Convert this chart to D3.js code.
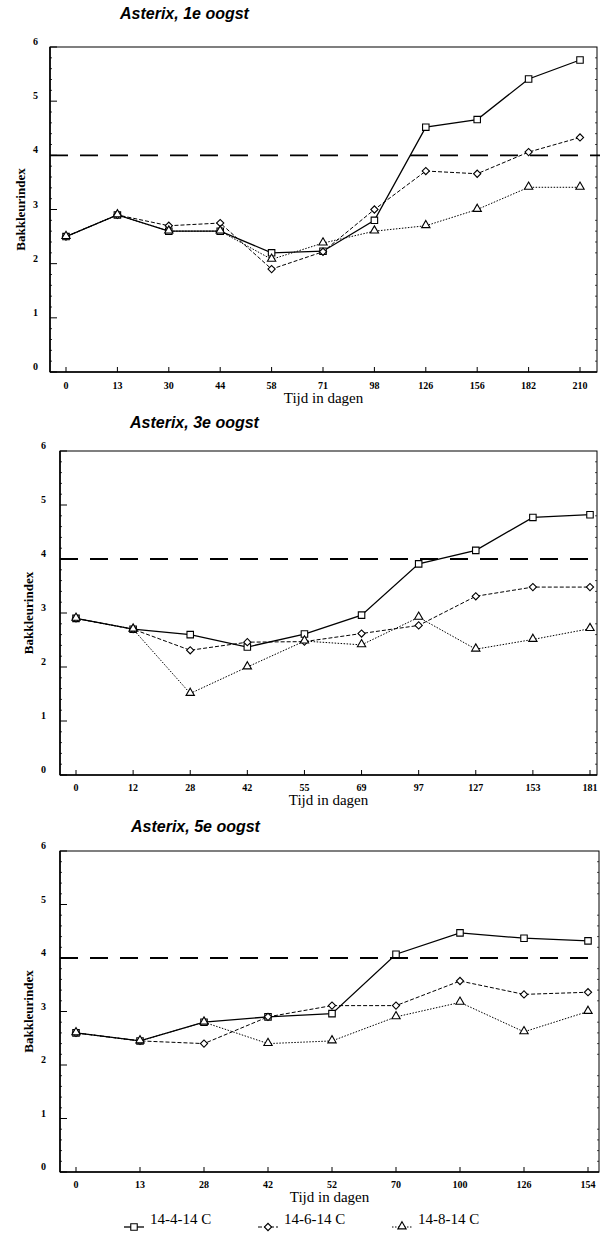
<!DOCTYPE html>
<html><head><meta charset="utf-8">
<script src="https://cdn.jsdelivr.net/npm/d3@7"></script>
<style>body{margin:0;background:#fff}svg{display:block}</style>
</head><body>
<svg id="c" width="600" height="1237"></svg>
<script>
// ---- data ----
const titles = ["Asterix, 1e oogst", "Asterix, 3e oogst", "Asterix, 5e oogst"];
const seriesNames = ["14-4-14 C", "14-6-14 C", "14-8-14 C"];
const yTicks = [0, 1, 2, 3, 4, 5, 6];
const threshold = 4;

const days1 = ["0","13","30","44","58","71","98","126","156","182","210"];
const sq1  = [2.5, 2.9, 2.6, 2.6, 2.2, 2.23, 2.8, 4.52, 4.66, 5.41, 5.76];
const di1  = [2.5, 2.9, 2.7, 2.75, 1.9, 2.22, 3.0, 3.71, 3.66, 4.06, 4.33];
const tr1  = [2.5, 2.9, 2.6, 2.6, 2.08, 2.38, 2.6, 2.7, 3.0, 3.41, 3.41];

const days2 = ["0","12","28","42","55","69","97","127","153","181"];
const sq2  = [2.9, 2.7, 2.6, 2.37, 2.61, 2.96, 3.91, 4.16, 4.77, 4.82];
const di2  = [2.9, 2.7, 2.31, 2.46, 2.47, 2.62, 2.77, 3.31, 3.48, 3.48];
const tr2  = [2.9, 2.7, 1.51, 2.0, 2.48, 2.41, 2.92, 2.33, 2.51, 2.71];

const days3 = ["0","13","28","42","52","70","100","126","154"];
const sq3  = [2.6, 2.45, 2.8, 2.9, 2.96, 4.07, 4.47, 4.37, 4.32];
const di3  = [2.6, 2.45, 2.4, 2.9, 3.11, 3.11, 3.57, 3.32, 3.36];
const tr3  = [2.6, 2.45, 2.8, 2.4, 2.45, 2.9, 3.17, 2.62, 3.0];

// ---- layout ----
const panels = [
  {days: days1, vals: [sq1, di1, tr1], left: 50, right: 597, top: 47, bottom: 372, x0: 66, x1: 580,
   titleX: 120, titleY: 19, ylabX: 20, ytickX: 42, xlabY: 389, xtitleY: 403},
  {days: days2, vals: [sq2, di2, tr2], left: 60, right: 597, top: 451, bottom: 775, x0: 76, x1: 590,
   titleX: 130, titleY: 428, ylabX: 28, ytickX: 50, xlabY: 791, xtitleY: 805},
  {days: days3, vals: [sq3, di3, tr3], left: 60, right: 599, top: 851, bottom: 1172, x0: 76, x1: 588,
   titleX: 131, titleY: 832, ylabX: 28, ytickX: 50, xlabY: 1188, xtitleY: 1202}
];

const svg = d3.select("#c");
const serif = "'Liberation Serif', 'Times New Roman', serif";
const sans = "'Liberation Sans', Arial, sans-serif";
const lineStyles = [
  {dash: null, w: 1.3},
  {dash: "4,2", w: 1},
  {dash: "1.5,1.5", w: 1}
];

function drawMarker(g, t, x, y) {
  let p;
  if (t === 0) {
    p = g.append("path").attr("d", d3.symbol().type(d3.symbolSquare).size(42)())
      .attr("transform", `translate(${x},${y})`);
  } else if (t === 1) {
    p = g.append("path").attr("d", d3.symbol().type(d3.symbolSquare).size(26)())
      .attr("transform", `translate(${x},${y}) rotate(45)`);
  } else {
    p = g.append("path").attr("d", d3.symbol().type(d3.symbolTriangle).size(30)())
      .attr("transform", `translate(${x},${y - 0.5})`);
  }
  p.attr("fill", "#fff").attr("stroke", "#000").attr("stroke-width", 1.1);
}

panels.forEach((P, i) => {
  const x = d3.scalePoint().domain(P.days).range([P.x0, P.x1]).padding(0);
  const y = d3.scaleLinear().domain([0, 6]).range([P.bottom, P.top]);
  const g = svg.append("g");

  // title
  g.append("text").attr("x", P.titleX).attr("y", P.titleY)
    .attr("font-family", sans).attr("font-weight", "bold").attr("font-style", "italic")
    .attr("font-size", 16).text(titles[i]);

  // frame
  g.append("rect").attr("x", P.left).attr("y", P.top)
    .attr("width", P.right - P.left).attr("height", P.bottom - P.top)
    .attr("fill", "none").attr("stroke", "#000").attr("stroke-width", 1);
  g.append("line").attr("x1", P.left).attr("x2", P.left).attr("y1", P.top).attr("y2", P.bottom)
    .attr("stroke", "#000").attr("stroke-width", 1.6);
  g.append("line").attr("x1", P.left).attr("x2", P.right).attr("y1", P.bottom).attr("y2", P.bottom)
    .attr("stroke", "#000").attr("stroke-width", 1.6);

  // y axis ticks (inward) + minor
  const minor = d3.range(0, 6.001, 0.2).filter(v => Math.abs(v - Math.round(v)) > 0.01);
  g.selectAll(".mn").data(minor).join("line")
    .attr("x1", P.left).attr("x2", P.left + 2).attr("y1", d => y(d)).attr("y2", d => y(d))
    .attr("stroke", "#000").attr("stroke-width", 0.8);
  g.selectAll(".mj").data(yTicks).join("line")
    .attr("x1", P.left).attr("x2", P.left + 7).attr("y1", d => y(d)).attr("y2", d => y(d))
    .attr("stroke", "#000").attr("stroke-width", 1);
  g.selectAll(".mr").data(minor).join("line")
    .attr("x1", P.right).attr("x2", P.right - 2).attr("y1", d => y(d)).attr("y2", d => y(d))
    .attr("stroke", "#000").attr("stroke-width", 0.7);
  g.selectAll(".yl").data(yTicks).join("text")
    .attr("x", P.ytickX - 4).attr("y", d => y(d) - 2)
    .attr("text-anchor", "end").attr("font-family", serif).attr("font-weight", "bold")
    .attr("font-size", 10).text(d => d);

  // y title
  g.append("text")
    .attr("transform", `translate(${P.ylabX + 5},${(P.top + P.bottom) / 2}) rotate(-90)`)
    .attr("text-anchor", "middle").attr("font-family", serif).attr("font-weight", "bold")
    .attr("font-size", 13).text("Bakkleurindex");

  // x ticks
  g.selectAll(".xt").data(P.days).join("line")
    .attr("x1", d => x(d)).attr("x2", d => x(d)).attr("y1", P.bottom).attr("y2", P.bottom - 5)
    .attr("stroke", "#000").attr("stroke-width", 1);
  g.selectAll(".xl").data(P.days).join("text")
    .attr("x", d => x(d)).attr("y", P.xlabY)
    .attr("text-anchor", "middle").attr("font-family", serif).attr("font-weight", "bold")
    .attr("font-size", 10).text(d => d);
  g.append("text").attr("x", (P.left + P.right) / 2).attr("y", P.xtitleY)
    .attr("text-anchor", "middle").attr("font-family", serif).attr("font-size", 15)
    .text("Tijd in dagen");

  // threshold dashed line
  g.append("line").attr("x1", P.left).attr("x2", 600).attr("y1", y(threshold)).attr("y2", y(threshold))
    .attr("stroke", "#000").attr("stroke-width", 1.8).attr("stroke-dasharray", "18,12");

  // series lines
  P.vals.forEach((vals, s) => {
    const line = d3.line().x((d, k) => x(P.days[k])).y(d => y(d));
    const path = g.append("path").datum(vals).attr("d", line).attr("fill", "none")
      .attr("stroke", "#000").attr("stroke-width", lineStyles[s].w);
    if (lineStyles[s].dash) path.attr("stroke-dasharray", lineStyles[s].dash);
  });
  // markers
  P.vals.forEach((vals, s) => {
    vals.forEach((v, k) => drawMarker(g, s, x(P.days[k]), y(v)));
  });
});

// legend
const legendX = [124, 258, 392];
const legendY = 1227;
seriesNames.forEach((name, s) => {
  const lx = legendX[s];
  const ln = svg.append("line").attr("x1", lx).attr("x2", lx + 20).attr("y1", legendY).attr("y2", legendY)
    .attr("stroke", "#000").attr("stroke-width", lineStyles[s].w);
  if (lineStyles[s].dash) ln.attr("stroke-dasharray", lineStyles[s].dash);
  drawMarker(svg, s, lx + 10, legendY);
  svg.append("text").attr("x", lx + 26).attr("y", legendY - 3)
    .attr("font-family", serif).attr("font-size", 15).text(name);
});
</script>
</body></html>
